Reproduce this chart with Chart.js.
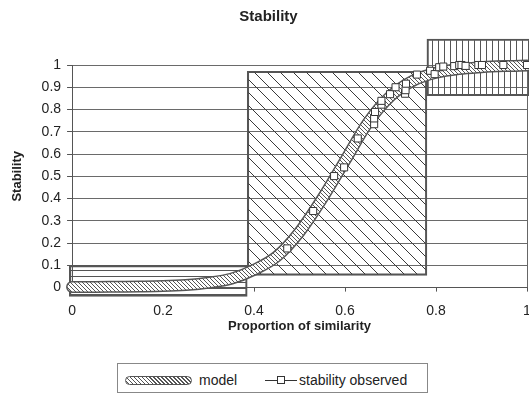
<!DOCTYPE html>
<html>
<head>
<meta charset="utf-8">
<script src="https://cdn.jsdelivr.net/npm/chart.js@4.4.1/dist/chart.umd.min.js"></script>
<style>
  html, body { margin: 0; padding: 0; background: #fff; overflow: hidden; }
  #quadro { position: relative; width: 529px; height: 394px; overflow: hidden; }
  #grafico { position: absolute; left: 0; top: 0; }
  #legenda { position: absolute; left: 117px; top: 363px; width: 309px; height: 28px;
    border: 1px solid #888; font: 14px "Liberation Sans", Arial, sans-serif; color: #222; }
  #legenda span { position: absolute; line-height: 16px; top: 8px; white-space: nowrap; }
  .faixa { position: absolute; box-sizing: border-box; left: 7px; top: 12px; width: 67px; height: 9px;
    border: 1px solid #555; border-radius: 5px;
    background: repeating-linear-gradient(45deg, #fff 0px, #fff 1.6px, #555 1.6px, #555 2.8px); }
  .traco { position: absolute; left: 147px; top: 16px; width: 32px; height: 1px; background: #333; }
  .quadrado { position: absolute; box-sizing: border-box; left: 159px; top: 12px; width: 8px; height: 8px;
    background: #fff; border: 1px solid #333; }
</style>
</head>
<body>
<div id="quadro">
  <canvas id="grafico" width="548" height="345"></canvas>
  <div id="legenda">
    <div class="faixa"></div>
    <span style="left:81px">model</span>
    <div class="traco"></div>
    <div class="quadrado"></div>
    <span style="left:181px">stability observed</span>
  </div>
</div>
<script>
// curva do modelo
const modeloX = [0, 0.05, 0.1, 0.15, 0.2, 0.25, 0.3, 0.35, 0.4, 0.45, 0.5, 0.55, 0.6, 0.65, 0.7, 0.75, 0.8, 0.85, 0.9, 0.95, 1];
const modeloY = [0.003, 0.003, 0.004, 0.005, 0.007, 0.012, 0.022, 0.04, 0.08, 0.14, 0.25, 0.40, 0.57, 0.74, 0.86, 0.93, 0.965, 0.982, 0.99, 0.995, 0.998];

// pontos observados
const observadoX = [0.473, 0.530, 0.576, 0.598, 0.628, 0.664, 0.664, 0.666, 0.680, 0.680, 0.699, 0.711, 0.732, 0.733, 0.734,
  0.758, 0.787, 0.797, 0.807, 0.816, 0.840, 0.851, 0.856, 0.865, 0.893, 0.901, 0.948, 1.0];
const observadoY = [0.176, 0.344, 0.501, 0.540, 0.670, 0.734, 0.760, 0.789, 0.822, 0.839, 0.869, 0.900, 0.871, 0.887, 0.916,
  0.957, 0.974, 0.959, 0.990, 0.993, 0.995, 1.0, 1.0, 0.996, 1.0, 1.0, 1.0, 1.0];

// faixas hachuradas (intervalos em x e em y)
const caixaX = [[-0.006, 0.385], [0.385, 0.78], [0.78, 1.1]];
const caixaY = [[-0.04, 0.1], [0.055, 0.972], [0.862, 1.117]];

const xTicks = [0, 0.2, 0.4, 0.6, 0.8, 1];
const yTicks = [0, 0.1, 0.2, 0.3, 0.4, 0.5, 0.6, 0.7, 0.8, 0.9, 1];

const canvas = document.getElementById("grafico");
const ctx = canvas.getContext("2d");

// padrões de hachura
function hachura(tipo, passo, cor, fundo) {
  const c = document.createElement("canvas");
  c.width = passo; c.height = passo;
  const g = c.getContext("2d");
  if (fundo) { g.fillStyle = fundo; g.fillRect(0, 0, passo, passo); }
  g.strokeStyle = cor;
  g.lineWidth = 1;
  g.beginPath();
  if (tipo === "h") { g.moveTo(0, 0.5); g.lineTo(passo, 0.5); }
  else if (tipo === "v") { g.moveTo(0.5, 0); g.lineTo(0.5, passo); }
  else {
    g.moveTo(-1, -1); g.lineTo(passo + 1, passo + 1);
    g.moveTo(-1, passo - 1); g.lineTo(1, passo + 1);
    g.moveTo(passo - 1, -1); g.lineTo(passo + 1, 1);
  }
  g.stroke();
  return ctx.createPattern(c, "repeat");
}

const padroesCaixa = [hachura("h", 6, "#555"), hachura("d", 13, "#3a3a3a"), hachura("v", 6, "#555")];
const padraoModelo = hachura("d", 4, "#555", "#fff");

Chart.defaults.font.family = '"Liberation Sans", Arial, sans-serif';
Chart.defaults.color = "#222";

const rotulo = v => String(Math.round(v * 100) / 100);

const caixas = caixaX.map((fx, i) => ({
  type: "bar",
  label: "faixa" + i,
  faixa: fx,
  data: [{ x: (fx[0] + fx[1]) / 2, y: caixaY[i] }],
  backgroundColor: padroesCaixa[i],
  borderColor: "#555",
  borderWidth: 1.5,
  borderSkipped: false,
  grouped: false,
  barThickness: 10,
  clip: false
}));

const grafico = new Chart(canvas, {
  type: "scatter",
  data: {
    datasets: [
      {
        type: "scatter",
        label: "stability observed",
        data: observadoX.map((x, i) => ({ x: x, y: observadoY[i] })),
        pointStyle: "rect",
        pointRadius: 5,
        pointBackgroundColor: "#fff",
        pointBorderColor: "#333",
        pointBorderWidth: 1,
        showLine: false,
        clip: false
      },
      {
        type: "line",
        label: "model",
        data: modeloX.map((x, i) => ({ x: x, y: modeloY[i] })),
        borderColor: padraoModelo,
        borderWidth: 9,
        borderCapStyle: "round",
        cubicInterpolationMode: "monotone",
        pointRadius: 0,
        fill: false,
        clip: false
      },
      {
        type: "line",
        label: "model contorno",
        data: modeloX.map((x, i) => ({ x: x, y: modeloY[i] })),
        borderColor: "#555",
        borderWidth: 12,
        borderCapStyle: "round",
        cubicInterpolationMode: "monotone",
        pointRadius: 0,
        fill: false,
        clip: false
      },
      ...caixas
    ]
  },
  options: {
    responsive: false,
    animation: false,
    layout: { padding: { left: 10, right: 21, top: 0, bottom: 7 } },
    plugins: {
      legend: { display: false },
      tooltip: { enabled: false },
      title: {
        display: true,
        text: "Stability",
        font: { size: 15, weight: "bold" },
        color: "#222",
        padding: { top: 8, bottom: 39 }
      }
    },
    scales: {
      x: {
        type: "linear",
        min: 0,
        max: 1,
        offset: false,
        afterBuildTicks: s => { s.ticks = xTicks.map(v => ({ value: v })); },
        ticks: { font: { size: 14 }, color: "#222", padding: 11, callback: rotulo },
        grid: {
          offset: false,
          color: c => (c.tick && c.tick.value === 1 ? "#666" : "rgba(0,0,0,0)"),
          tickColor: "#555",
          tickLength: 4
        },
        border: { display: true, color: "#555" },
        title: {
          display: true,
          text: "Proportion of similarity",
          font: { size: 13, weight: "bold" },
          color: "#222",
          padding: { top: -12, bottom: 4 }
        }
      },
      y: {
        type: "linear",
        min: 0,
        max: 1,
        afterBuildTicks: s => { s.ticks = yTicks.map(v => ({ value: v })); },
        ticks: { font: { size: 14 }, color: "#222", padding: 6, callback: rotulo },
        grid: { color: "#6a6a6a", tickColor: "#555", tickLength: 5 },
        border: { display: true, color: "#555" },
        title: {
          display: true,
          text: "Stability",
          font: { size: 13, weight: "bold" },
          color: "#222",
          padding: { top: 0, bottom: 10 }
        }
      }
    }
  }
});

// largura das faixas a partir da escala x
const escalaX = grafico.scales.x;
grafico.data.datasets.forEach(ds => {
  if (ds.faixa) {
    ds.barThickness = escalaX.getPixelForValue(ds.faixa[1]) - escalaX.getPixelForValue(ds.faixa[0]);
  }
});
grafico.update("none");
</script>
</body>
</html>
